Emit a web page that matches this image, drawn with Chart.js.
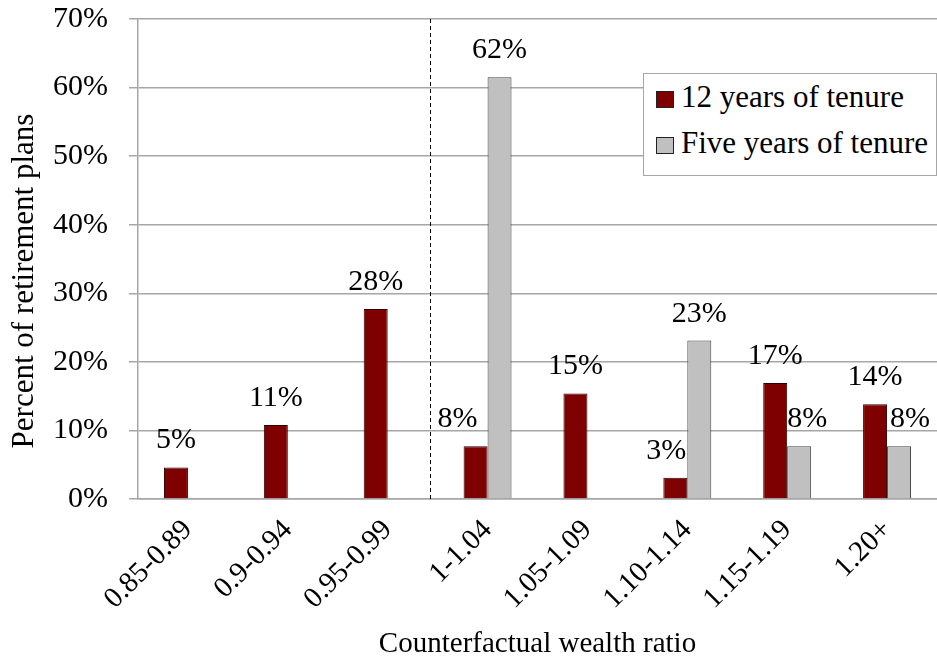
<!DOCTYPE html>
<html>
<head>
<meta charset="utf-8">
<script src="https://cdn.jsdelivr.net/npm/chart.js@4.4.1/dist/chart.umd.min.js"></script>
<style>
  html, body { margin: 0; padding: 0; background: #fff; }
  #wrap { position: relative; width: 937px; height: 662px; }
  #legend {
    position: absolute; left: 643px; top: 73px; width: 292px; height: 101px;
    border: 1px solid #a6a6a6; background: #fff;
    font-family: "Liberation Serif", "Times New Roman", serif; font-size: 31px; color: #000;
  }
  .item { position: absolute; left: 12px; height: 36px; line-height: 36px; white-space: nowrap; }
  .swatch { display: inline-block; width: 18px; height: 17px; box-sizing: border-box; border: 1px solid #222; margin-right: 7px; vertical-align: -1px; }
</style>
</head>
<body>
<div id="wrap">
  <canvas id="chart" width="937" height="662"></canvas>
  <div id="legend"></div>
</div>
<script>
// 카테고리와 값
var categories = ["0.85-0.89", "0.9-0.94", "0.95-0.99", "1-1.04", "1.05-1.09", "1.10-1.14", "1.15-1.19", "1.20+"];
var tenure12 = [4.6, 10.8, 27.7, 7.7, 15.4, 3.1, 16.9, 13.8];
var tenure5 = [null, null, null, 61.5, null, 23.1, 7.7, 7.7];
var seriesNames = ["12 years of tenure", "Five years of tenure"];
var yTicks = [0, 10, 20, 30, 40, 50, 60, 70];
var yTitle = "Percent of retirement plans";
var xTitle = "Counterfactual wealth ratio";

var colors = ["#7f0000", "#c0c0c0"];
var serif = "'Liberation Serif', 'Times New Roman', serif";
var dividerAt = 2.42;   // dashed line between 0.95-0.99 and 1-1.04
// small sideways nudges of value labels, as in the original
var labelNudge = { "0-3": -18, "0-5": -9, "1-6": 8, "1-7": 11 };

// 막대 위 값 라벨
var valueLabels = {
    id: "valueLabels",
    afterDatasetsDraw: function(chart) {
        var ctx = chart.ctx;
        ctx.save();
        ctx.font = "30px " + serif;
        ctx.fillStyle = "#000";
        ctx.textAlign = "center";
        ctx.textBaseline = "alphabetic";
        chart.data.datasets.forEach(function(ds, di) {
            var meta = chart.getDatasetMeta(di);
            meta.data.forEach(function(bar, i) {
                var v = ds.data[i];
                if (v === null) return;
                var dx = labelNudge[di + "-" + i] || 0;
                ctx.fillText(Math.round(v) + "%", bar.x + dx, bar.y - 19);
            });
        });
        ctx.restore();
    }
};

// 점선 구분선 + 세로축 제목
var divider = {
    id: "divider",
    afterDatasetsDraw: function(chart) {
        var ctx = chart.ctx;
        var x = Math.round(chart.scales.x.getPixelForValue(dividerAt)) + 0.5;
        ctx.save();
        ctx.strokeStyle = "#000";
        ctx.lineWidth = 1;
        ctx.setLineDash([4, 3]);
        ctx.beginPath();
        ctx.moveTo(x, chart.chartArea.top);
        ctx.lineTo(x, chart.chartArea.bottom);
        ctx.stroke();
        ctx.restore();

        ctx.save();
        ctx.translate(25, 281);
        ctx.rotate(-Math.PI / 2);
        ctx.font = "31px " + serif;
        ctx.fillStyle = "#000";
        ctx.textAlign = "center";
        ctx.textBaseline = "middle";
        ctx.fillText(yTitle, 0, 0);
        ctx.restore();
    }
};

var chart = new Chart(document.getElementById("chart").getContext("2d"), {
    type: "bar",
    data: {
        labels: categories,
        datasets: [
            { label: seriesNames[0], data: tenure12, backgroundColor: colors[0], borderColor: "#2a0000", borderWidth: 1 },
            { label: seriesNames[1], data: tenure5, backgroundColor: colors[1], borderColor: "#404040", borderWidth: 1 }
        ]
    },
    options: {
        responsive: false,
        animation: false,
        layout: { padding: { top: 19, right: 0, left: 0, bottom: 0 } },
        datasets: { bar: { categoryPercentage: 0.48, barPercentage: 1 } },
        plugins: { legend: { display: false }, tooltip: { enabled: false } },
        scales: {
            x: {
                grid: { display: false },
                border: { color: "#a6a6a6", width: 1.5 },
                ticks: { color: "#000", font: { family: serif, size: 29 }, minRotation: 45, maxRotation: 45, padding: 6, autoSkip: false },
                title: { display: true, text: xTitle, color: "#000", font: { family: serif, size: 29 }, padding: { top: 0, bottom: 0 } },
                afterFit: function(scale) { scale.height = 163; scale.paddingRight = 0; }
            },
            y: {
                min: 0,
                max: 70,
                afterBuildTicks: function(scale) { scale.ticks = yTicks.map(function(v) { return { value: v }; }); },
                grid: { color: "#a6a6a6", lineWidth: 1.5, tickLength: 9 },
                border: { color: "#a6a6a6", width: 1.5 },
                ticks: { color: "#000", font: { family: serif, size: 30 }, padding: 21, callback: function(v) { return v + "%"; } },
                afterFit: function(scale) { scale.width = 138; scale.paddingTop = 0; scale.paddingBottom = 0; }
            }
        }
    },
    plugins: [valueLabels, divider]
});

// 범례 (그림 안쪽 오른쪽 위)
var legendDiv = document.getElementById("legend");
seriesNames.forEach(function(name, i) {
    var item = document.createElement("div");
    item.className = "item";
    item.style.top = (5 + i * 46) + "px";
    var sw = document.createElement("span");
    sw.className = "swatch";
    sw.style.background = colors[i];
    item.appendChild(sw);
    item.appendChild(document.createTextNode(name));
    legendDiv.appendChild(item);
});
</script>
</body>
</html>
